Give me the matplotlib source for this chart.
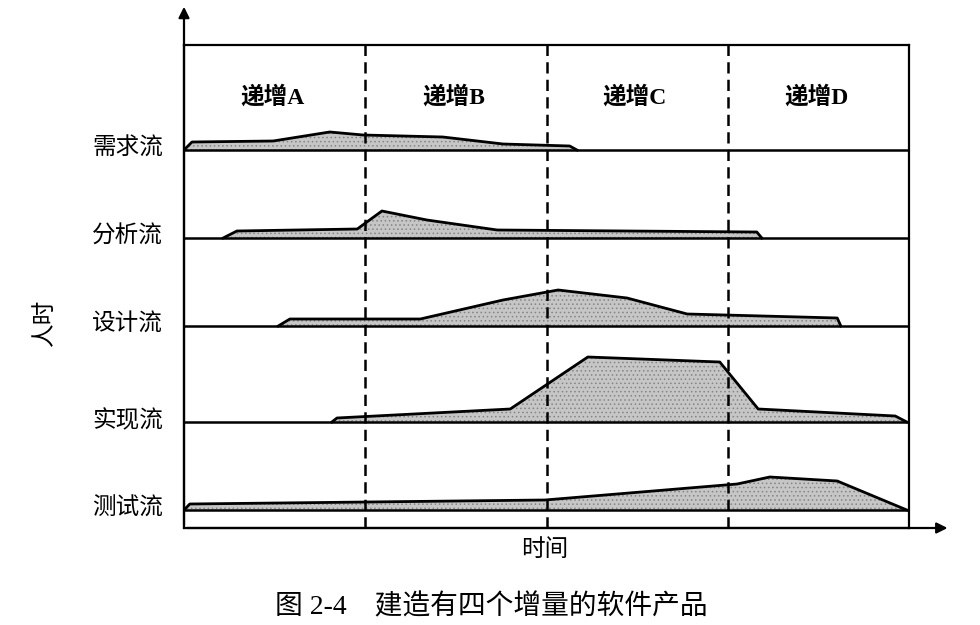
import matplotlib
matplotlib.use("Agg")
import matplotlib.pyplot as plt

plt.rcParams["font.family"] = ["Liberation Serif", "Noto Sans CJK SC", "DejaVu Sans"]
plt.rcParams["hatch.linewidth"] = 0.6

# ── Data (time 0..100, staffing height per stream) ───────────────────────────

STREAMS = ["需求流", "分析流", "设计流", "实现流", "测试流"]
BASELINES = [378, 290, 202, 106, 18]

req_t = [0, 1.1, 12.3, 20.1, 24.7, 35.7, 44.0, 53.2, 54.2]
req_h = [0, 8, 9, 18, 15, 13, 6, 4, 0]

ana_t = [5.4, 7.3, 23.9, 27.3, 33.5, 43.2, 79.0, 79.7]
ana_h = [0, 7, 9, 27, 18, 8, 6, 0]

des_t = [13.0, 14.6, 32.6, 44.0, 51.6, 61.1, 69.4, 90.1, 90.6]
des_h = [0, 7, 7, 26, 36, 28, 12, 8, 0]

imp_t = [20.4, 21.1, 45.0, 55.7, 73.9, 79.2, 98.1, 99.7]
imp_h = [0, 4, 13, 65, 60, 13, 6, 0]

tst_t = [0, 0.8, 49.8, 76.3, 80.8, 90.1, 99.7]
tst_h = [0, 6, 10, 26, 33, 29, 0]

SERIES = [(req_t, req_h), (ana_t, ana_h), (des_t, des_h), (imp_t, imp_h), (tst_t, tst_h)]

INCREMENTS = ["递增A", "递增B", "递增C", "递增D"]
INC_BOUNDS = [25, 50, 75]

X_MAX, Y_MAX = 100, 483

# ── Figure ───────────────────────────────────────────────────────────────────

W, H = 980, 625
fig = plt.figure(figsize=(W / 100, H / 100), dpi=100)
ax = fig.add_axes([184 / W, (H - 528) / H, 725 / W, 483 / H])
ax.set_xlim(0, X_MAX)
ax.set_ylim(0, Y_MAX)
ax.set_xticks([])
ax.set_yticks([])
for sp in ax.spines.values():
    sp.set_linewidth(1.6)

# axis arrows
ax.annotate("", xy=(0, 524), xytext=(0, 0), annotation_clip=False,
            arrowprops=dict(arrowstyle="-|>", color="black", lw=1.6, mutation_scale=16))
ax.annotate("", xy=(105.7, 0), xytext=(0, 0), annotation_clip=False,
            arrowprops=dict(arrowstyle="-|>", color="black", lw=1.6, mutation_scale=16))

for name, base, (ts, hs) in zip(STREAMS, BASELINES, SERIES):
    ys = [base + h for h in hs]
    ax.fill_between(ts, base, ys, facecolor="#c6c6c6", edgecolor="#858585",
                    hatch="....", linewidth=0, zorder=2)
    ax.plot(ts, ys, color="black", lw=2.0, solid_joinstyle="round", zorder=3)
    ax.axhline(base, color="black", lw=1.8, zorder=4)
    ax.text(-2.9, base + 1, name, ha="right", va="center", fontsize=17,
            fontweight="medium", clip_on=False)

for b in INC_BOUNDS:
    ax.plot([b, b], [0, Y_MAX], color="black", lw=1.8, ls=(0, (4.5, 2.5)), zorder=5)

edges = [0] + INC_BOUNDS + [X_MAX]
for i, lab in enumerate(INCREMENTS):
    ax.text((edges[i] + edges[i + 1]) / 2 - 0.3, 431, lab, ha="center", va="center",
            fontsize=17, fontweight="bold")

fig.text(45 / W, 1 - 322 / H, "人时", rotation=90, ha="center", va="center",
         fontsize=17, fontweight="medium")
fig.text(545 / W, 1 - 550 / H, "时间", ha="center", va="center", fontsize=17,
         fontweight="medium")
fig.text(491 / W, 1 - 607 / H, "图 2-4    建造有四个增量的软件产品", ha="center",
         va="center", fontsize=20, fontweight="medium")

fig.savefig("out.png", dpi=100)
